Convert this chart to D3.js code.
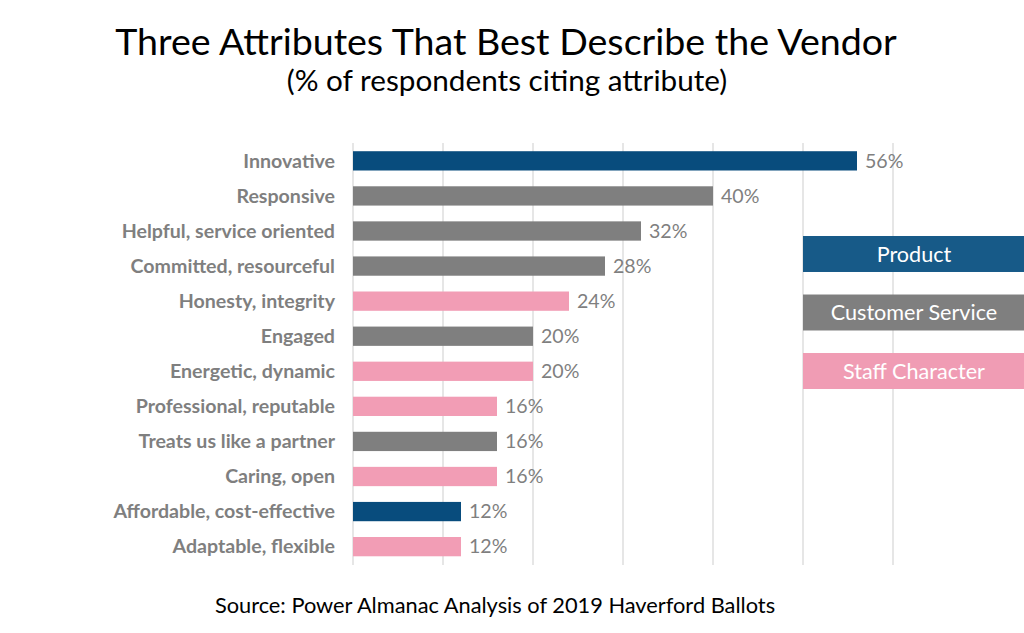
<!DOCTYPE html>
<html><head><meta charset="utf-8">
<script src="https://cdn.jsdelivr.net/npm/d3@7"></script>
<style>body{margin:0;background:#fff}svg{display:block}</style>
</head><body><svg id="c" width="1024" height="633"></svg>
<script>
const categories = ["Innovative","Responsive","Helpful, service oriented","Committed, resourceful","Honesty, integrity","Engaged","Energetic, dynamic","Professional, reputable","Treats us like a partner","Caring, open","Affordable, cost-effective","Adaptable, flexible"];
const values = [56,40,32,28,24,20,20,16,16,16,12,12];
const groups = ["Product","Customer Service","Customer Service","Customer Service","Staff Character","Customer Service","Staff Character","Staff Character","Customer Service","Staff Character","Product","Staff Character"];
const legendItems = ["Product","Customer Service","Staff Character"];
const xTicks = [0,10,20,30,40,50,60];

const barColor = {"Product":"#084c7d","Customer Service":"#7f7f7f","Staff Character":"#f29db5"};
const legendColor = {"Product":"#175a88","Customer Service":"#7f7f7f","Staff Character":"#f09cb4"};
const font = "Lato, 'Open Sans', sans-serif";

const svg = d3.select("#c");
const x = d3.scaleLinear().domain([0,60]).range([353,893]);
const y = d3.scaleBand().domain(categories).range([143.5,564]).paddingInner(0.45).paddingOuter(0.22);

// gridlines
svg.append("g").selectAll("line").data(xTicks).join("line")
  .attr("x1",d=>x(d)).attr("x2",d=>x(d)).attr("y1",143).attr("y2",565)
  .attr("stroke","#d9d9d9").attr("stroke-width",1.3);

// bars
svg.append("g").selectAll("rect").data(categories).join("rect")
  .attr("x",x(0)).attr("y",d=>y(d)).attr("height",y.bandwidth())
  .attr("width",(d,i)=>x(values[i])-x(0))
  .attr("fill",(d,i)=>barColor[groups[i]]);

// category labels
svg.append("g").selectAll("text").data(categories).join("text")
  .attr("x",335).attr("y",d=>y(d)+y.bandwidth()/2).attr("dy","0.35em")
  .attr("text-anchor","end").attr("font-family",font).attr("font-weight","bold")
  .attr("font-size",19.6).attr("fill","#7f7f7f").text(d=>d);

// value labels
svg.append("g").selectAll("text").data(categories).join("text")
  .attr("x",(d,i)=>x(values[i])+8).attr("y",d=>y(d)+y.bandwidth()/2).attr("dy","0.35em")
  .attr("font-family",font).attr("font-size",19.6).attr("fill","#7f7f7f")
  .text((d,i)=>values[i]+"%");

// legend
const ly = d3.scaleBand().domain(legendItems).range([236,389]).paddingInner(0.385);
const lg = svg.append("g").selectAll("g").data(legendItems).join("g");
lg.append("rect").attr("x",803).attr("width",221).attr("y",d=>ly(d)).attr("height",ly.bandwidth())
  .attr("fill",d=>legendColor[d]);
lg.append("text").attr("x",914).attr("y",d=>ly(d)+ly.bandwidth()/2).attr("dy","0.35em")
  .attr("text-anchor","middle").attr("font-family",font).attr("font-size",21.6).attr("fill","#fff").text(d=>d);

// titles
svg.append("text").attr("x",506).attr("y",55).attr("text-anchor","middle")
  .attr("font-family",font).attr("font-size",37.6).attr("fill","#000")
  .text("Three Attributes That Best Describe the Vendor");
svg.append("text").attr("x",507).attr("y",91).attr("text-anchor","middle")
  .attr("font-family",font).attr("font-size",29.7).attr("fill","#000")
  .text("(% of respondents citing attribute)");
svg.append("text").attr("x",495).attr("y",613).attr("text-anchor","middle")
  .attr("font-family",font).attr("font-size",21.8).attr("fill","#000")
  .text("Source:  Power Almanac Analysis of 2019 Haverford Ballots");
</script></body></html>
